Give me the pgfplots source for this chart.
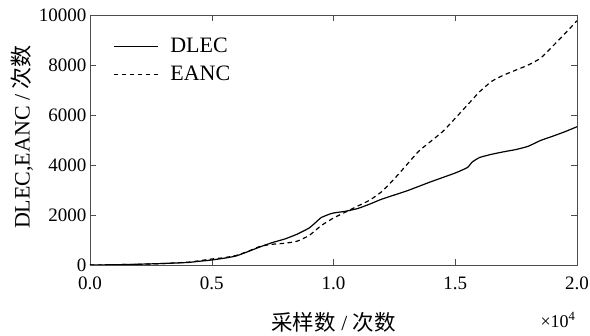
\documentclass[border=0pt]{standalone}
\usepackage{pgfplots}
\pgfplotsset{compat=1.18}
\usepackage{fontspec}
\setmainfont{Liberation Serif}
\newfontfamily\cjk{Noto Sans CJK SC}
\begin{document}
\begin{tikzpicture}
\begin{axis}[
  at={(0,0)}, anchor=south west,
  scale only axis, width=487pt, height=250pt,
  xmin=0, xmax=2, ymin=0, ymax=10000,
  xtick={0,0.5,1,1.5,2},
  ytick={0,2000,4000,6000,8000,10000},
  xticklabel style={/pgf/number format/fixed,/pgf/number format/precision=1,/pgf/number format/fixed zerofill, yshift=-8pt},
  yticklabel style={/pgf/number format/fixed},
  /pgf/number format/1000 sep={},
  /pgf/number format/assume math mode=true,
  scaled x ticks=false, scaled y ticks=false,
  tick label style={font=\fontsize{19}{21}\selectfont},
  major tick length=6pt,
  axis line style={black!70},
  tick style={black!70},
  legend style={draw=none, fill=none, at={(0.045,0.92)}, anchor=north west,
    font=\fontsize{22}{24}\selectfont, row sep=8pt, inner sep=1pt,
    /tikz/every odd column/.append style={column sep=10pt}},
  legend cell align=left,
  legend image code/.code={\draw[#1] (0pt,0pt) -- (44pt,0pt);},
]
\addplot[black, line width=1.2pt, smooth, tension=0.3] coordinates {
(0,0) (0.1,10) (0.2,30) (0.3,60) (0.4,100) (0.45,150) (0.5,200) (0.55,270) (0.6,360) (0.65,540) (0.7,730) (0.75,900) (0.8,1040) (0.85,1230) (0.9,1480) (0.93,1730) (0.95,1900) (0.98,2020) (1.0,2080) (1.05,2150) (1.1,2260) (1.15,2440) (1.2,2640) (1.3,2960) (1.4,3330) (1.5,3680) (1.55,3900) (1.57,4120) (1.6,4300) (1.65,4430) (1.7,4530) (1.75,4620) (1.8,4750) (1.85,4980) (1.9,5150) (1.95,5330) (2.0,5530)
};
\addlegendentry{DLEC}
\addplot[black, line width=1.2pt, dash pattern=on 4.5pt off 3.5pt, smooth, tension=0.3] coordinates {
(0,0) (0.1,10) (0.2,30) (0.3,60) (0.4,110) (0.45,170) (0.5,240) (0.55,290) (0.6,380) (0.65,550) (0.7,750) (0.75,830) (0.8,870) (0.85,950) (0.9,1180) (0.95,1580) (1.0,1880) (1.05,2120) (1.1,2360) (1.15,2600) (1.2,2950) (1.25,3450) (1.3,4000) (1.35,4550) (1.4,4950) (1.45,5350) (1.5,5870) (1.55,6400) (1.6,6930) (1.65,7350) (1.7,7600) (1.75,7800) (1.8,8000) (1.85,8270) (1.9,8750) (1.95,9250) (2.0,9770)
};
\addlegendentry{EANC}
\end{axis}
\node[font=\fontsize{21.5}{24}\selectfont] at (243.5pt,-57pt) {{\cjk 采样数} / {\cjk 次数}};
\node[font=\fontsize{18}{20}\selectfont] at (468pt,-55pt) {×10\textsuperscript{4}};
\node[font=\fontsize{22}{24}\selectfont, rotate=90] at (-68pt,128pt) {DLEC,EANC / {\cjk 次数}};
\pgfresetboundingbox
\path[use as bounding box] (-90pt,-71pt) rectangle (500pt,265pt);
\end{tikzpicture}
\end{document}
